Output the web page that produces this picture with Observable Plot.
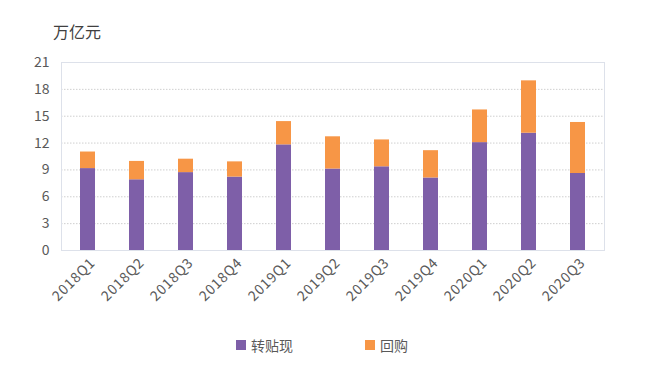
<!DOCTYPE html>
<html>
<head>
<meta charset="utf-8">
<script src="https://cdn.jsdelivr.net/npm/d3@7"></script>
<script src="https://cdn.jsdelivr.net/npm/@observablehq/plot@0.6"></script>
<style>
  body { margin: 0; background: #fff; }
  #wrap { position: relative; width: 659px; height: 366px; font-family: "Noto Sans CJK SC", "Noto Sans", sans-serif; color: #595959; overflow: hidden; }
  #title { position: absolute; left: 53px; top: 19px; font-size: 16px; color: #404040; }
  #chart { position: absolute; left: 0; top: 0; }
  #legend { position: absolute; top: 335px; left: 0; width: 659px; font-size: 14px; }
  .item { position: absolute; display: flex; align-items: center; }
  .sw { width: 10px; height: 10px; margin-right: 5px; }
  .xax text { letter-spacing: 0.8px; }
</style>
</head>
<body>
<div id="wrap">
  <div id="title">万亿元</div>
  <div id="chart"></div>
  <div id="legend">
    <div class="item" style="left:236px"><div class="sw" style="background:#7E5FA8"></div>转贴现</div>
    <div class="item" style="left:365px"><div class="sw" style="background:#F79646"></div>回购</div>
  </div>
</div>
<script>
const categories = ["2018Q1","2018Q2","2018Q3","2018Q4","2019Q1","2019Q2","2019Q3","2019Q4","2020Q1","2020Q2","2020Q3"];
const discount = [9.15, 7.9, 8.7, 8.2, 11.8, 9.1, 9.35, 8.1, 12.05, 13.1, 8.6];
const totals = [11.0, 9.95, 10.2, 9.9, 14.4, 12.7, 12.35, 11.15, 15.7, 18.95, 14.3];
const repo = totals.map((t, i) => +(t - discount[i]).toFixed(2));
const seriesNames = ["转贴现", "回购"];
const yTicks = [0, 3, 6, 9, 12, 15, 18, 21];

const data = [];
categories.forEach((c, i) => {
  data.push({q: c, s: seriesNames[0], v: discount[i]});
  data.push({q: c, s: seriesNames[1], v: repo[i]});
});

const chart = Plot.plot({
  width: 659,
  height: 330,
  marginTop: 62,
  marginLeft: 61,
  marginRight: 55,
  marginBottom: 80,
  style: {fontFamily: "'Noto Sans CJK SC', 'Noto Sans', sans-serif", fontSize: "13px", color: "#595959", background: "transparent"},
  x: {domain: categories, paddingInner: 0.69, paddingOuter: 0.345, label: null},
  y: {domain: [0, 21], ticks: yTicks, label: null},
  color: {domain: seriesNames, range: ["#7E5FA8", "#F79646"]},
  marks: [
    Plot.gridY(yTicks.filter(t => t > 0 && t < 21), {stroke: "#cfcfcf", strokeOpacity: 1, strokeDasharray: "1.5,1.5"}),
    Plot.frame({stroke: "#dde1ea"}),
    Plot.barY(data, {x: "q", y: "v", fill: "s", order: seriesNames}),
    Plot.axisY({ticks: yTicks, tickSize: 0, tickPadding: 12, fontSize: 14, fill: "#595959"}),
    Plot.axisX({tickSize: 0, tickRotate: -45, tickPadding: 10, dx: 5, fontSize: 14, fill: "#595959", className: "xax"})
  ]
});
document.getElementById("chart").appendChild(chart);
</script>
</body>
</html>
